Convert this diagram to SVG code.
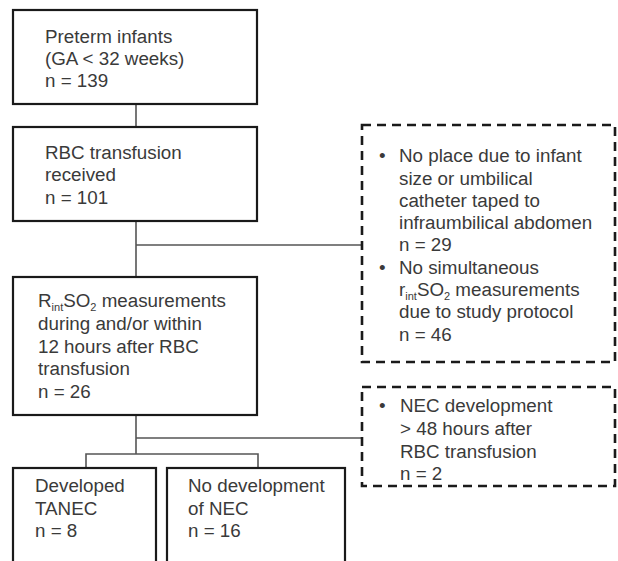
<svg xmlns="http://www.w3.org/2000/svg" width="618" height="561" viewBox="0 0 618 561">
<style>
.box{fill:#fff;stroke:#1a1a1a;stroke-width:2.2}
.dbox{fill:#fff;stroke:#1a1a1a;stroke-width:2.6;stroke-dasharray:9 6}
.con{fill:none;stroke:#555;stroke-width:1.6}
text{font-family:"Liberation Sans",Arial,sans-serif;font-size:18.8px;fill:#3a3a3a}
.sub{font-size:11px}
</style>
<rect width="618" height="561" fill="#fff"/>
<g id="connectors">
<path class="con" d="M136 104V127M136 221V277M136 245H362M136 415V454M136 438H362M86 468V454H258V468"/>
</g>
<g id="n1">
<rect class="box" x="13" y="10" width="244" height="94"/>
<text x="45" y="43">Preterm infants</text>
<text x="45" y="65">(GA &lt; 32 weeks)</text>
<text x="45" y="87">n = 139</text>
</g>
<g id="n2">
<rect class="box" x="13" y="127" width="244" height="94"/>
<text x="45" y="159">RBC transfusion</text>
<text x="45" y="181">received</text>
<text x="45" y="204">n = 101</text>
</g>
<g id="n3">
<rect class="box" x="13" y="277" width="244" height="138"/>
<text x="38" y="307">R<tspan class="sub" dy="4">int</tspan><tspan dy="-4">SO</tspan><tspan class="sub" dy="4">2</tspan><tspan dy="-4"> measurements</tspan></text>
<text x="38" y="330">during and/or within</text>
<text x="38" y="353">12 hours after RBC</text>
<text x="38" y="375">transfusion</text>
<text x="38" y="398">n = 26</text>
</g>
<g id="n4">
<rect class="box" x="13" y="468" width="143" height="110"/>
<text x="35" y="492">Developed</text>
<text x="35" y="515">TANEC</text>
<text x="35" y="537">n = 8</text>
</g>
<g id="n5">
<rect class="box" x="167" y="468" width="178" height="110"/>
<text x="188" y="492">No development</text>
<text x="188" y="515">of NEC</text>
<text x="188" y="537">n = 16</text>
</g>
<g id="ex1">
<rect class="dbox" x="362" y="125" width="253" height="237"/>
<text x="379" y="162">•</text>
<text x="399" y="162">No place due to infant</text>
<text x="399" y="185">size or umbilical</text>
<text x="399" y="207">catheter taped to</text>
<text x="399" y="229">infraumbilical abdomen</text>
<text x="399" y="251">n = 29</text>
<text x="379" y="274">•</text>
<text x="399" y="274">No simultaneous</text>
<text x="399" y="296">r<tspan class="sub" dy="4">int</tspan><tspan dy="-4">SO</tspan><tspan class="sub" dy="4">2</tspan><tspan dy="-4"> measurements</tspan></text>
<text x="399" y="318">due to study protocol</text>
<text x="399" y="341">n = 46</text>
</g>
<g id="ex2">
<rect class="dbox" x="362" y="387" width="253" height="99"/>
<text x="379" y="412">•</text>
<text x="400" y="412">NEC development</text>
<text x="400" y="435">&gt; 48 hours after</text>
<text x="400" y="458">RBC transfusion</text>
<text x="400" y="480">n = 2</text>
</g>
</svg>
